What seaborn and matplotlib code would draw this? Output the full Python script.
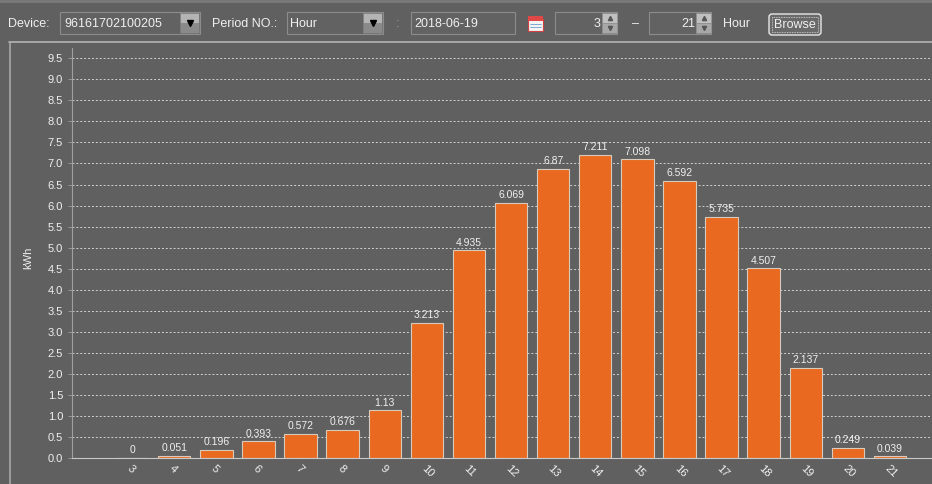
import matplotlib
matplotlib.use("Agg")
import matplotlib.pyplot as plt
from matplotlib.patches import Rectangle, FancyBboxPatch
import pandas as pd
import seaborn as sns

# hourly energy for the day
hours = ["3", "4", "5", "6", "7", "8", "9", "10", "11", "12",
         "13", "14", "15", "16", "17", "18", "19", "20", "21"]
kwh = [0, 0.051, 0.196, 0.393, 0.572, 0.676, 1.13, 3.213, 4.935, 6.069,
       6.87, 7.211, 7.098, 6.592, 5.735, 4.507, 2.137, 0.249, 0.039]
yticks = [i * 0.5 for i in range(20)]

device_id = "96161702100205"
period = "Hour"
day = "2018-06-19"
hour_from = "3"
hour_to = "21"

bg = "#606060"
bar_col = "#E8691F"
txt = "#f0f0f0"

sns.set_theme(style="dark")
plt.rcParams["font.family"] = ["Liberation Sans", "DejaVu Sans"]

W, H = 932, 484
fig = plt.figure(figsize=(W / 100, H / 100), dpi=100, facecolor=bg)

# overlay in pixel coords for the toolbar / panel frame
ui = fig.add_axes([0, 0, 1, 1], zorder=0)
ui.set_xlim(0, W)
ui.set_ylim(H, 0)
ui.axis("off")

ui.plot([0, W], [1, 1], color="#7a7a7a", lw=2)
ui.plot([9, W], [42, 42], color="#b4b4b4", lw=1.2)
ui.plot([10, 10], [42, H], color="#a8a8a8", lw=1.2)


def field(x0, x1, y0=12, y1=34):
    ui.add_patch(Rectangle((x0, y0), x1 - x0, y1 - y0, facecolor="#626262",
                           edgecolor="#8c8c8c", lw=0.8))


def combo_btn(x0):
    ui.add_patch(Rectangle((x0, 13), 19, 10, facecolor="#b4b4b4", edgecolor="none"))
    ui.add_patch(Rectangle((x0, 23), 19, 10, facecolor="#8a8a8a", edgecolor="none"))
    ui.add_patch(Rectangle((x0, 13), 19, 20, facecolor="none",
                           edgecolor="#7a7a7a", lw=0.6))
    ui.plot(x0 + 9.5, 23, marker="v", color="black", ms=5)


def spinner(x0):
    ui.add_patch(Rectangle((x0, 13), 15, 10, facecolor="#c0c0c0",
                           edgecolor="#909090", lw=0.5))
    ui.add_patch(Rectangle((x0, 23), 15, 10, facecolor="#a8a8a8",
                           edgecolor="#909090", lw=0.5))
    ui.plot(x0 + 7.5, 18, marker="^", color="#555555", ms=3)
    ui.plot(x0 + 7.5, 28, marker="v", color="#555555", ms=3)


fs = 9
ui.text(8, 24, "Device:", color=txt, fontsize=fs, va="center")
field(60, 200)
ui.text(64, 24, device_id, color=txt, fontsize=fs, va="center")
combo_btn(180)
ui.text(212, 24, "Period NO.:", color=txt, fontsize=fs, va="center")
field(287, 383)
ui.text(290, 24, period, color=txt, fontsize=fs, va="center")
combo_btn(363)
ui.text(396, 24, ":", color="#a0a0a0", fontsize=fs, va="center")
field(411, 515)
ui.text(414, 24, day, color=txt, fontsize=fs, va="center")
# calendar icon
ui.add_patch(Rectangle((528, 19), 15, 12, facecolor="#f4f4f4", edgecolor="#d04040", lw=0.8))
ui.add_patch(Rectangle((528, 16), 15, 5, facecolor="#e04848", edgecolor="none"))
for yy in (24, 27):
    ui.plot([530, 541], [yy, yy], color="#6aa0d0", lw=0.6)
field(555, 617)
ui.text(600, 24, hour_from, color=txt, fontsize=fs, va="center", ha="right")
spinner(602)
ui.text(632, 24, "–", color=txt, fontsize=fs, va="center")
field(649, 711)
ui.text(695, 24, hour_to, color=txt, fontsize=fs, va="center", ha="right")
spinner(696)
ui.text(723, 24, "Hour", color=txt, fontsize=fs, va="center")
ui.add_patch(FancyBboxPatch((769, 14), 52, 21, boxstyle="round,pad=0,rounding_size=3",
                            facecolor="#6a6a6a", edgecolor="#e8e8e8", lw=1))
ui.add_patch(Rectangle((772, 17), 46, 15, facecolor="none", edgecolor="#d8d8d8",
                       lw=0.6, ls=(0, (1, 1))))
ui.text(795, 25, "Browse", color=txt, fontsize=fs, va="center", ha="center")

# chart area
left, top, bottom = 72, 48, 458
ax = fig.add_axes([left / W, (H - bottom) / H, (W - left) / W, (bottom - top) / H], zorder=1)
ax.set_facecolor(bg)

df = pd.DataFrame({"hour": hours, "kwh": kwh})
sns.barplot(data=df, x="hour", y="kwh", order=hours, color=bar_col,
            saturation=1, width=0.77, edgecolor="#d8cbbd", linewidth=0.8, ax=ax)
ax.bar_label(ax.containers[0], fmt="{:g}", color=txt, fontsize=7.5, padding=2)

ax.set_xlim(-1.43, 19.0)
ax.set_ylim(0, 9.745)
ax.set_yticks(yticks)
ax.set_yticklabels([f"{v:.1f}" for v in yticks])
ax.grid(axis="y", color="#d0d0d0", ls=(0, (2, 2)), lw=0.7)
ax.grid(axis="x", visible=False)
ax.set_axisbelow(True)
for s in ["top", "right"]:
    ax.spines[s].set_visible(False)
ax.spines["left"].set_color("#a0a0a0")
ax.spines["left"].set_linewidth(0.8)
ax.spines["bottom"].set_color("#c8c8c8")
ax.spines["bottom"].set_linewidth(0.8)
ax.tick_params(axis="y", colors="#a0a0a0", labelcolor=txt, labelsize=8, length=3, width=0.6, left=True)
ax.tick_params(axis="x", labelcolor=txt, labelsize=8, length=0, pad=4)
plt.setp(ax.get_xticklabels(), rotation=-45, ha="left", rotation_mode="anchor")
ax.set_xlabel("")
ax.set_ylabel("kWh", color=txt, fontsize=8)
ax.yaxis.set_label_coords((33 - left) / (W - left), 0.488)

fig.savefig("out.png", dpi=100, facecolor=bg)
